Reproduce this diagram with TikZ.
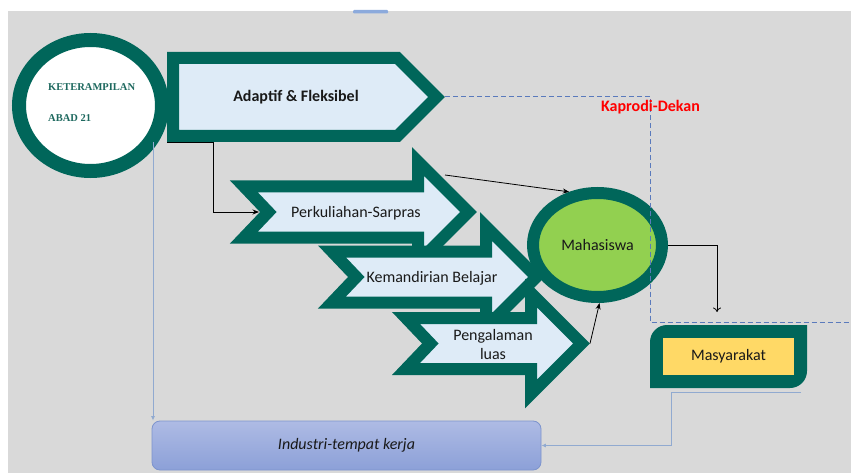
\documentclass[tikz,border=0pt]{standalone}
\usepackage{fontspec}
\setmainfont{Carlito}
\newfontfamily\ketfont{Liberation Serif}
\usetikzlibrary{shapes.geometric,arrows.meta}
\definecolor{bg}{RGB}{217,217,217}
\definecolor{tealdk}{RGB}{0,102,90}
\definecolor{lblue}{RGB}{222,235,247}
\definecolor{mgreen}{RGB}{146,208,80}
\definecolor{myellow}{RGB}{255,217,102}
\definecolor{dashblue}{RGB}{90,122,188}
\definecolor{lline}{RGB}{145,170,208}
\definecolor{indtop}{RGB}{174,187,228}
\definecolor{indbot}{RGB}{140,160,216}
\definecolor{indbd}{RGB}{125,148,205}
\definecolor{txt}{RGB}{25,25,25}
\definecolor{kettxt}{RGB}{30,105,95}
\definecolor{markblue}{RGB}{140,170,220}
\newcommand\notcharrow[4]{%
  \filldraw[fill=lblue,draw=tealdk,line width=12pt,line join=miter]
   ({#2+14},{#4-25.5}) -- ({#3+6},{#4-25.5}) -- ({#3+6},{#4-50.5}) -- ({#3+56.5},{#4})
   -- ({#3+6},{#4+50.5}) -- ({#3+6},{#4+25.5}) -- ({#2+14},{#4+25.5}) -- ({#2+38.3},{#4}) -- cycle;
  \coordinate (#1-tip) at ({#3+65},{#4});
  \coordinate (#1-notch) at ({#2+29},{#4});
}
\begin{document}
\begin{tikzpicture}[x=1pt,y=-1pt,
  lab/.style={font=\fontsize{16}{19.5}\selectfont, text=txt, inner sep=0pt},
  labb/.style={font=\bfseries\fontsize{16}{19.5}\selectfont, inner sep=0pt},
  kett/.style={font=\ketfont\bfseries\fontsize{10.5}{12}\selectfont, text=kettxt, anchor=base west, inner sep=0pt},
  conn/.style={draw=black, line width=0.8pt, -{Stealth[length=6.5pt,width=5pt]}},
  lconn/.style={draw=lline, line width=0.9pt, -{Latex[length=4.5pt,width=4pt]}}]
\useasboundingbox (0,0) rectangle (851,473);
\fill[white] (0,0) rectangle (851,473);
\fill[bg] (8,11) rectangle (851,473);
\fill[markblue, rounded corners=1pt] (353,10) rectangle (388,13.5);
% Keterampilan circle
\node[ellipse, draw=tealdk, fill=white, line width=14pt, minimum width=143pt, minimum height=131pt, inner sep=0pt] (ket) at (90.5,105.5) {};
\node[kett] (ket1) at (48,90.5) {KETERAMPILAN};
\node[kett] (ket2) at (48,121.5) {ABAD 21};
% Adaptif pentagon
\filldraw[fill=lblue, draw=tealdk, line width=12pt, line join=miter]
  (173,58) -- (397.5,58) -- (436.5,97) -- (397.5,136) -- (173,136) -- cycle;
\coordinate (adtip) at (445,96.5);
\coordinate (adbl) at (167,142);
\node[labb, text=txt] (adt) at (296,97) {Adaptif \& Fleksibel};
% notched arrows
\notcharrow{perk}{230}{412}{212}
\node[lab] (perkt) at (356,213) {Perkuliahan-Sarpras};
\notcharrow{kem}{318}{480}{277}
\node[lab] (kemt) at (432,278) {Kemandirian Belajar};
\notcharrow{peng}{392}{525}{343.5}
\node[lab, align=center] (pengt) at (493,344.5) {Pengalaman\\luas};
% Mahasiswa
\node[ellipse, draw=tealdk, fill=mgreen, line width=12pt, minimum width=129pt, minimum height=104pt, inner sep=0pt, lab] (mah) at (597.5,245) {Mahasiswa};
% dashed boundary
\coordinate (dash1) at (650,96.5);
\coordinate (dash2) at (650,322);
\coordinate (dash3) at (851,322);
\draw[dashblue, line width=0.9pt, dash pattern=on 5pt off 3pt] (adtip) -- (dash1) -- (dash2) -- (dash3);
\node[labb, text=red] (kap) at (650.5,107) {Kaprodi-Dekan};
% Masyarakat
\fill[tealdk] (650,388) -- (650,342) .. controls (650,332.6) and (657.6,325) .. (667,325) -- (807,325)
  -- (807,371) .. controls (807,380.4) and (799.4,388) .. (790,388) -- cycle;
\node[fill=myellow, minimum width=131pt, minimum height=37pt, inner sep=0pt, lab] (mas) at (728.5,356.5) {Masyarakat};
% Industri
\node[draw=indbd, line width=0.8pt, rounded corners=8pt, top color=indtop, bottom color=indbot,
  minimum width=389pt, minimum height=49pt, inner sep=0pt, lab, font=\itshape\fontsize{16}{19.5}\selectfont] (ind) at (346.5,445.5) {Industri-tempat kerja};
% connectors
\coordinate (elb) at (213,142);
\draw[conn] (adbl) -- (elb) |- (perk-notch);
\coordinate (perkout) at (445,175);
\draw[conn] (perkout) -- (mah.118);
\draw[conn] (peng-tip) -- (mah.-88);
\coordinate (masin) at (717,312);
\draw[line width=0.8pt, -{To[length=4.5pt,width=8pt]}] (mah.east) -| (masin);
\coordinate (lstart) at (153,142);
\draw[lconn] (lstart) -- (lstart |- ind.north);
\coordinate (ml1) at (801,392);
\coordinate (ml2) at (671,392);
\draw[lconn] (ml1) -- (ml2) |- (ind.east);
\end{tikzpicture}
\end{document}
